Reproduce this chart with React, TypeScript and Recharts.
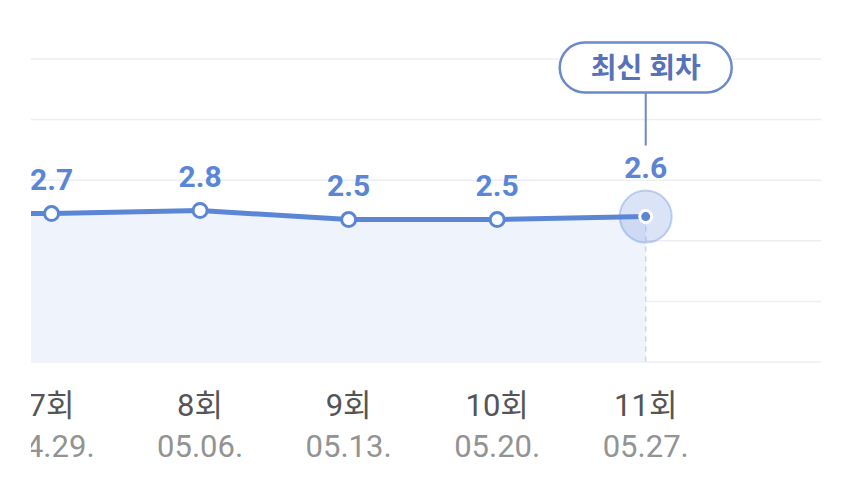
import { AreaChart, Area, XAxis, YAxis, CartesianGrid, ReferenceLine, LabelList } from "recharts"

const episodes = [6, 7, 8, 9, 10, 11]
const airDates = ["04.22.", "04.29.", "05.06.", "05.13.", "05.20.", "05.27."]
const ratings = [2.7, 2.7, 2.8, 2.5, 2.5, 2.6]
const yTicks = [-2.2, -0.2, 1.8, 3.8, 5.8, 7.8]
const latestBadge = "최신 회차"

const data = episodes.map((ep, i) => ({ ep, date: airDates[i], rating: ratings[i] }))
const lastIdx = data.length - 1

const BLUE = "#5b86d6"
const FONT = "Roboto, 'Noto Sans CJK KR', sans-serif"

function EpisodeTick({ x, y, payload }: any) {
  const i = episodes.indexOf(payload.value)
  return (
    <g>
      <text x={x} y={y + 54} textAnchor="middle" fontSize={31} fill="#555555" fontFamily={FONT}>
        {payload.value}회
      </text>
      <text x={x} y={y + 95} textAnchor="middle" fontSize={31} fill="#939393" fontFamily={FONT}>
        {airDates[i]}
      </text>
    </g>
  )
}

function RatingLabel({ x, y, value, index }: any) {
  const latest = index === lastIdx
  return (
    <g>
      {latest && (
        <g>
          <line x1={x} x2={x} y1={y - 124} y2={y - 71} stroke="#6a8acb" strokeWidth={2} />
          <rect x={x - 86} y={y - 174} width={172} height={50} rx={25} fill="#ffffff" stroke="#6a8acb" strokeWidth={2.5} />
          <text
            x={x}
            y={y - 148}
            textAnchor="middle"
            dominantBaseline="central"
            fontSize={28}
            fontWeight={700}
            fill="#5672b8"
            fontFamily={FONT}
          >
            {latestBadge}
          </text>
        </g>
      )}
      <text
        x={x}
        y={y - (latest ? 39 : 24)}
        textAnchor="middle"
        fontSize={30}
        fontWeight={700}
        fill={BLUE}
        fontFamily={FONT}
      >
        {value}
      </text>
    </g>
  )
}

function RatingDot({ cx, cy, index }: any) {
  if (index === lastIdx) {
    return (
      <g key="dot-latest">
        <circle cx={cx} cy={cy} r={26} fill="rgba(91,134,214,0.22)" stroke="rgba(91,134,214,0.35)" strokeWidth={2} />
        <circle cx={cx} cy={cy} r={6} fill={BLUE} stroke="#ffffff" strokeWidth={3} />
      </g>
    )
  }
  return <circle key={`dot-${index}`} cx={cx} cy={cy} r={7} fill="#ffffff" stroke={BLUE} strokeWidth={3} />
}

export default function App() {
  return (
    <div style={{ marginLeft: 23, width: 819, height: 470, overflow: "hidden" }}>
      <div style={{ marginLeft: -128 }}>
        <AreaChart width={947} height={470} data={data} margin={{ top: 51, right: 29, bottom: 16, left: 0 }}>
          <CartesianGrid vertical={false} stroke="#eceef1" strokeWidth={1.5} />
          <XAxis
            dataKey="ep"
            type="number"
            domain={[6, 12.18]}
            ticks={[7, 8, 9, 10, 11]}
            interval={0}
            axisLine={false}
            tickLine={false}
            tickSize={0}
            tickMargin={0}
            height={100}
            tick={<EpisodeTick />}
          />
          <YAxis hide width={0} type="number" domain={[yTicks[0], yTicks[yTicks.length - 1]]} ticks={yTicks} />
          <ReferenceLine
            segment={[
              { x: episodes[lastIdx], y: ratings[lastIdx] },
              { x: episodes[lastIdx], y: yTicks[0] },
            ]}
            stroke="#c8d6f0"
            strokeWidth={1.5}
            strokeDasharray="5 5"
          />
          <Area
            type="linear"
            dataKey="rating"
            baseValue={yTicks[0]}
            stroke={BLUE}
            strokeWidth={5}
            fill="#eef3fc"
            fillOpacity={1}
            dot={RatingDot}
            activeDot={false}
            isAnimationActive={false}
          >
            <LabelList dataKey="rating" content={RatingLabel} />
          </Area>
        </AreaChart>
      </div>
    </div>
  )
}
